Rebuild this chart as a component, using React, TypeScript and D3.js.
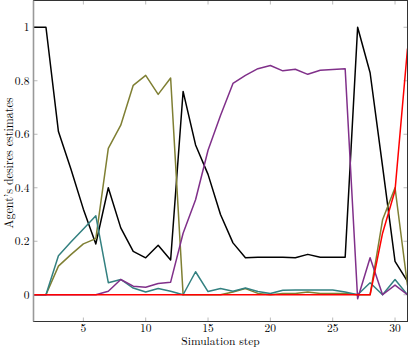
import React from "react";
import * as d3 from "d3";

const steps = d3.range(1, 32);
const blackVals = [1, 1, 0.61, 0.47, 0.32, 0.19, 0.4, 0.25, 0.162, 0.138, 0.185, 0.13, 0.76, 0.56, 0.45, 0.3, 0.194, 0.138, 0.14, 0.14, 0.14, 0.138, 0.151, 0.14, 0.14, 0.14, 1.0, 0.83, 0.48, 0.125, 0.05];
const oliveVals = [0, 0, 0.107, 0.15, 0.19, 0.21, 0.547, 0.634, 0.783, 0.82, 0.749, 0.81, 0, 0, 0, 0, 0.01, 0.023, 0.005, 0, 0.005, 0.005, 0.01, 0.005, 0.005, 0.005, 0, 0, 0.28, 0.4, 0.035];
const tealVals = [0, 0, 0.146, 0.197, 0.246, 0.295, 0.045, 0.057, 0.025, 0.01, 0.023, 0.013, 0, 0.086, 0.012, 0.023, 0.013, 0.025, 0.012, 0.005, 0.017, 0.018, 0.018, 0.018, 0.018, 0.01, 0, 0.045, 0, 0.057, 0];
const purpleVals = [0, 0, 0, 0, 0, 0, 0.013, 0.057, 0.032, 0.028, 0.042, 0.047, 0.23, 0.355, 0.54, 0.67, 0.79, 0.82, 0.845, 0.857, 0.837, 0.843, 0.824, 0.839, 0.842, 0.845, -0.015, 0.138, 0, 0.036, 0];
const redVals = [0, 0, 0, 0, 0, 0, 0, 0, 0, 0, 0, 0, 0, 0, 0, 0, 0, 0, 0, 0, 0, 0, 0, 0, 0, 0, 0, 0, 0.23, 0.39, 0.92];

const xTicks = [5, 10, 15, 20, 25, 30];
const yTicks = [0, 0.2, 0.4, 0.6, 0.8, 1];
const xLabel = "Simulation step";
const yLabel = "Agent\u2019s desires estimates";

const seriesList = [
  { name: "black", values: blackVals, color: "#000000" },
  { name: "olive", values: oliveVals, color: "#7f7f33" },
  { name: "teal", values: tealVals, color: "#338080" },
  { name: "purple", values: purpleVals, color: "#80308a" },
  { name: "red", values: redVals, color: "#ff0000" },
];

const W = 408;
const H = 347;
const L = 33.5;
const R = 407.5;
const T = 0.5;
const B = 321.5;
const FONT = "'Latin Modern Roman', 'DejaVu Serif', serif";
const FS = 12;
const TFS = 11.5;

export default function App() {
  const x = d3.scaleLinear().domain([1, 31]).range([L, R]);
  const y = d3.scaleLinear().domain([-0.1, 1.1]).range([B, T]);
  const line = d3
    .line<number>()
    .x((_, i) => x(steps[i]))
    .y((d) => y(d));
  return (
    <svg
      width={W}
      height={H}
      style={{ position: "absolute", left: 0, top: 0, background: "#fff" }}
      fontFamily={FONT}
    >
      {xTicks.map((t) => (
        <g key={"xt" + t} stroke="#bbbbbb" strokeWidth={1}>
          <line x1={x(t)} x2={x(t)} y1={B} y2={B - 4} />
          <line x1={x(t)} x2={x(t)} y1={T} y2={T + 4} />
        </g>
      ))}
      {yTicks.map((t) => (
        <g key={"yt" + t} stroke="#bbbbbb" strokeWidth={1}>
          <line x1={L} x2={L + 4} y1={y(t)} y2={y(t)} />
          <line x1={R} x2={R - 4} y1={y(t)} y2={y(t)} />
        </g>
      ))}
      {seriesList.map((s) => (
        <path
          key={s.name}
          d={line(s.values) || ""}
          fill="none"
          stroke={s.color}
          strokeWidth={1.5}
          strokeLinejoin="round"
        />
      ))}
      <rect x={L} y={T} width={R - L} height={B - T} fill="none" stroke="#333333" strokeWidth={1} />
      <line x1={L} x2={L} y1={T} y2={B} stroke="#999999" strokeWidth={1.6} />
      {xTicks.map((t) => (
        <text key={"xl" + t} x={x(t)} y={B + 10} textAnchor="middle" fontSize={TFS} fill="#000">
          {t}
        </text>
      ))}
      {yTicks.map((t) => (
        <text key={"yl" + t} x={L - 4} y={y(t) + 4} textAnchor="end" fontSize={TFS} fill="#000">
          {t}
        </text>
      ))}
      <text x={(L + R) / 2} y={B + 23} textAnchor="middle" fontSize={11.5} fill="#000">
        {xLabel}
      </text>
      <text
        transform={`translate(13, ${(T + B) / 2 + 2}) rotate(-90)`}
        textAnchor="middle"
        fontSize={FS}
        fill="#000"
      >
        {yLabel}
      </text>
    </svg>
  );
}
